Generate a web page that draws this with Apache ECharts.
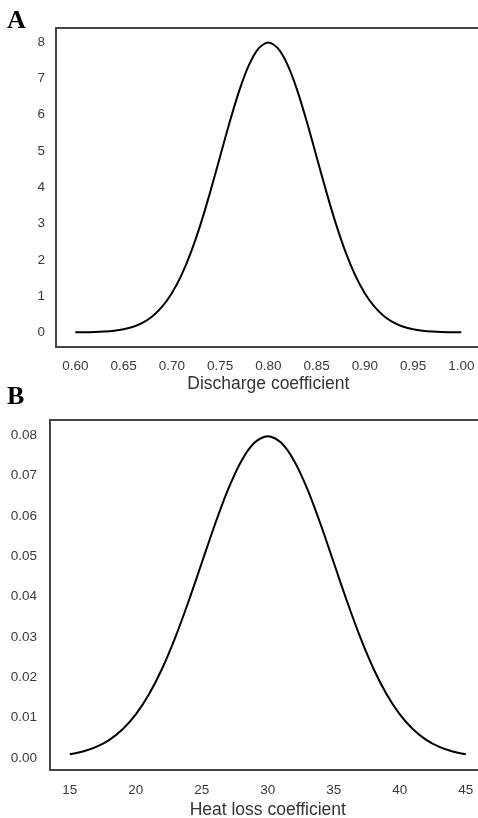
<!DOCTYPE html>
<html>
<head>
<meta charset="utf-8">
<script src="https://cdn.jsdelivr.net/npm/echarts@6/dist/echarts.min.js"></script>
<style>
html,body{margin:0;padding:0;background:#fff;}
#chart{width:478px;height:818px;}
</style>
</head>
<body>
<div id="chart"></div>
<script>
// Panel A: Discharge coefficient density
const xA = [0.60,0.61,0.62,0.63,0.64,0.65,0.66,0.67,0.68,0.69,0.70,0.71,0.72,0.73,0.74,0.75,0.76,0.77,0.78,0.79,0.80,
            0.81,0.82,0.83,0.84,0.85,0.86,0.87,0.88,0.89,0.90,0.91,0.92,0.93,0.94,0.95,0.96,0.97,0.98,0.99,1.00];
const yA = [0.003,0.006,0.012,0.025,0.048,0.089,0.158,0.272,0.448,0.710,1.080,1.579,2.218,2.995,3.884,4.839,5.794,6.665,7.366,7.821,7.979,
            7.821,7.366,6.665,5.794,4.839,3.884,2.995,2.218,1.579,1.080,0.710,0.448,0.272,0.158,0.089,0.048,0.025,0.012,0.006,0.003];
const xTicksA = [0.60,0.65,0.70,0.75,0.80,0.85,0.90,0.95,1.00];
const yTicksA = [0,1,2,3,4,5,6,7,8];

// Panel B: Heat loss coefficient density
const xB = [15,16,17,18,19,20,21,22,23,24,25,26,27,28,29,30,31,32,33,34,35,36,37,38,39,40,41,42,43,44,45];
const yB = [0.00089,0.00158,0.00272,0.00448,0.00710,0.01080,0.01579,0.02218,0.02995,0.03884,0.04839,0.05794,0.06665,0.07366,0.07821,0.07979,
            0.07821,0.07366,0.06665,0.05794,0.04839,0.03884,0.02995,0.02218,0.01579,0.01080,0.00710,0.00448,0.00272,0.00158,0.00089];
const xTicksB = [15,20,25,30,35,40,45];
const yTicksB = [0.00,0.01,0.02,0.03,0.04,0.05,0.06,0.07,0.08];

const FONT = "'Liberation Sans', Arial, sans-serif";
const LBL = '#3a3a3a';

function valAxis(extra) {
  return Object.assign({
    type: 'value',
    axisLine: {show: false},
    axisTick: {show: false},
    splitLine: {show: false}
  }, extra);
}

const chart = echarts.init(document.getElementById('chart'), null, {renderer: 'canvas'});
chart.setOption({
  animation: false,
  backgroundColor: '#fff',
  grid: [
    {left: 56, top: 28, width: 424.6, height: 319, show: true, borderColor: '#444', borderWidth: 2,
     backgroundColor: 'transparent', containLabel: false, outerBoundsMode: 'none'},
    {left: 50, top: 420, width: 435.6, height: 350, show: true, borderColor: '#444', borderWidth: 2,
     backgroundColor: 'transparent', containLabel: false, outerBoundsMode: 'none'}
  ],
  xAxis: [
    valAxis({gridIndex: 0, min: 0.58, max: 1.02,
      axisLabel: {customValues: xTicksA, margin: 12, fontSize: 13.5, color: LBL, fontFamily: FONT,
        formatter: v => v.toFixed(2)},
      name: 'Discharge coefficient', nameLocation: 'middle', nameGap: 28,
      nameTextStyle: {fontSize: 17.5, color: '#333', fontFamily: FONT}}),
    valAxis({gridIndex: 1, min: 13.5, max: 46.5,
      axisLabel: {customValues: xTicksB, margin: 13, fontSize: 13.5, color: LBL, fontFamily: FONT,
        formatter: v => String(Math.round(v))},
      name: 'Heat loss coefficient', nameLocation: 'middle', nameGap: 31,
      nameTextStyle: {fontSize: 17.5, color: '#333', fontFamily: FONT}})
  ],
  yAxis: [
    valAxis({gridIndex: 0, min: -0.4, max: 8.38,
      axisLabel: {customValues: yTicksA, margin: 11, fontSize: 13.5, color: LBL, fontFamily: FONT,
        formatter: v => String(Math.round(v))}}),
    valAxis({gridIndex: 1, min: -0.003, max: 0.0838,
      axisLabel: {customValues: yTicksB, margin: 13, fontSize: 13.5, color: LBL, fontFamily: FONT,
        formatter: v => v.toFixed(2)}})
  ],
  series: [
    {type: 'line', xAxisIndex: 0, yAxisIndex: 0, data: xA.map((x, i) => [x, yA[i]]),
     smooth: 0.3, showSymbol: false, lineStyle: {color: '#000', width: 2}},
    {type: 'line', xAxisIndex: 1, yAxisIndex: 1, data: xB.map((x, i) => [x, yB[i]]),
     smooth: 0.3, showSymbol: false, lineStyle: {color: '#000', width: 2}}
  ],
  graphic: [
    {type: 'text', left: 7, top: 8, style: {text: 'A', font: "bold 26px 'Liberation Serif', 'Times New Roman', serif", fill: '#000'}},
    {type: 'text', left: 7, top: 384, style: {text: 'B', font: "bold 26px 'Liberation Serif', 'Times New Roman', serif", fill: '#000'}}
  ]
});
</script>
</body>
</html>
